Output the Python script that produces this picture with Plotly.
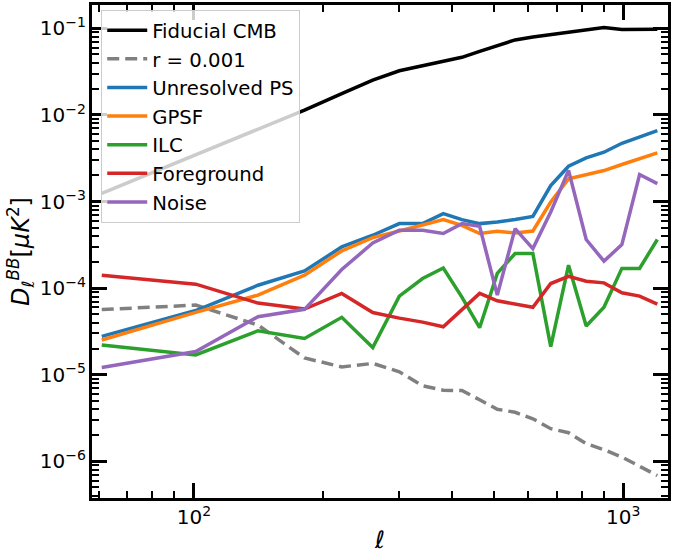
import plotly.graph_objects as go

# Multipole bin centres
ell = [61, 101, 141, 181, 221, 261, 301, 341, 381, 421, 463, 509, 560, 616,
       678, 746, 820, 902, 993, 1092, 1201]

# Band powers D_ell^BB in uK^2
fiducial_cmb = [1.24e-3, 3.43e-3, 6.87e-3, 1.14e-2, 1.76e-2, 2.52e-2, 3.24e-2,
                3.70e-2, 4.22e-2, 4.63e-2, 5.43e-2, 6.29e-2, 7.36e-2, 7.97e-2,
                8.52e-2, 8.98e-2, 9.77e-2, 1.02e-1, 9.72e-2, 9.72e-2, 9.77e-2]
r_0001 = [5.65e-5, 6.37e-5, 3.75e-5, 1.56e-5, 1.23e-5, 1.35e-5, 1.08e-5,
          7.45e-6, 6.61e-6, 6.57e-6, 5.13e-6, 3.99e-6, 3.68e-6, 3.10e-6,
          2.38e-6, 2.14e-6, 1.60e-6, 1.36e-6, 1.12e-6, 8.69e-7, 6.84e-7]
unresolved_ps = [2.77e-5, 5.51e-5, 1.08e-4, 1.58e-4, 2.99e-4, 4.08e-4, 5.56e-4,
                 5.56e-4, 7.24e-4, 6.18e-4, 5.56e-4, 5.80e-4, 6.22e-4, 6.74e-4,
                 1.53e-3, 2.56e-3, 3.20e-3, 3.71e-3, 4.71e-3, 5.52e-3, 6.59e-3]
gpsf = [2.52e-5, 5.25e-5, 8.30e-5, 1.41e-4, 2.69e-4, 3.83e-4, 4.57e-4,
        5.31e-4, 6.18e-4, 5.31e-4, 4.27e-4, 4.53e-4, 4.33e-4, 4.57e-4,
        9.87e-4, 1.83e-3, 2.05e-3, 2.28e-3, 2.68e-3, 3.16e-3, 3.65e-3]
ilc = [2.21e-5, 1.69e-5, 3.22e-5, 2.62e-5, 4.60e-5, 2.06e-5, 8.09e-5,
       1.29e-4, 1.71e-4, 7.87e-5, 3.49e-5, 1.48e-4, 2.51e-4, 2.51e-4,
       2.11e-5, 1.84e-4, 3.65e-5, 6.00e-5, 1.69e-4, 1.69e-4, 3.64e-4]
foreground = [1.41e-4, 1.11e-4, 6.72e-5, 5.73e-5, 8.69e-5, 5.22e-5, 4.50e-5,
              4.05e-5, 3.58e-5, 5.58e-5, 8.69e-5, 7.14e-5, 6.54e-5, 6.00e-5,
              1.13e-4, 1.37e-4, 1.20e-4, 1.15e-4, 8.83e-5, 8.09e-5, 6.54e-5]
noise = [1.21e-5, 1.85e-5, 4.68e-5, 5.69e-5, 1.64e-4, 3.32e-4, 4.66e-4,
         4.66e-4, 4.27e-4, 5.56e-4, 5.18e-4, 8.30e-5, 4.86e-4, 2.86e-4,
         7.57e-4, 2.29e-3, 3.64e-4, 2.05e-4, 3.18e-4, 2.05e-3, 1.61e-3]

series = [
    ("Fiducial CMB", fiducial_cmb, "black", "solid"),
    ("r = 0.001", r_0001, "#808080", "12px,6px"),
    ("Unresolved PS", unresolved_ps, "#1f77b4", "solid"),
    ("GPSF", gpsf, "#ff7f0e", "solid"),
    ("ILC", ilc, "#2ca02c", "solid"),
    ("Foreground", foreground, "#d62728", "solid"),
    ("Noise", noise, "#9467bd", "solid"),
]

fig = go.Figure()
for name, vals, color, dash in series:
    fig.add_trace(go.Scatter(
        x=ell, y=vals, mode="lines", name=name,
        line=dict(color=color, width=3.5, dash=dash),
    ))

axis_common = dict(
    type="log",
    showgrid=False,
    zeroline=False,
    showline=True,
    linecolor="black",
    linewidth=3,
    mirror="ticks",
    ticks="inside",
    ticklen=15,
    tickwidth=3,
    tickcolor="black",
    dtick=1,
    exponentformat="power",
    tickfont=dict(family="DejaVu Sans", size=16, color="black"),
    minor=dict(ticks="inside", ticklen=7, tickwidth=1.5, tickcolor="black",
               dtick="D1", showgrid=False),
)

fig.update_xaxes(
    **axis_common,
    range=[1.7626, 3.1044],
    title=dict(text="<i>ℓ</i>", font=dict(family="DejaVu Sans", size=24, color="black"),
               standoff=6),
)
fig.update_yaxes(
    **axis_common,
    range=[-6.424, -0.730],
    title=dict(text="<i>D</i><sub><i>ℓ</i></sub><sup><i>BB</i></sup>[<i>μK</i><sup>2</sup>]",
               font=dict(family="DejaVu Sans", size=24, color="black"),
               standoff=4),
)

fig.update_layout(
    width=673,
    height=554,
    margin=dict(l=92, r=2, t=4, b=56),
    paper_bgcolor="white",
    plot_bgcolor="white",
    font=dict(family="DejaVu Sans", color="black"),
    legend=dict(
        x=0.016, y=0.99, xanchor="left", yanchor="top",
        bgcolor="rgba(255,255,255,0.8)",
        bordercolor="#cccccc", borderwidth=1,
        font=dict(family="DejaVu Sans", size=19.7, color="black"),
        itemwidth=40,
    ),
)

fig.write_html("out.html")
